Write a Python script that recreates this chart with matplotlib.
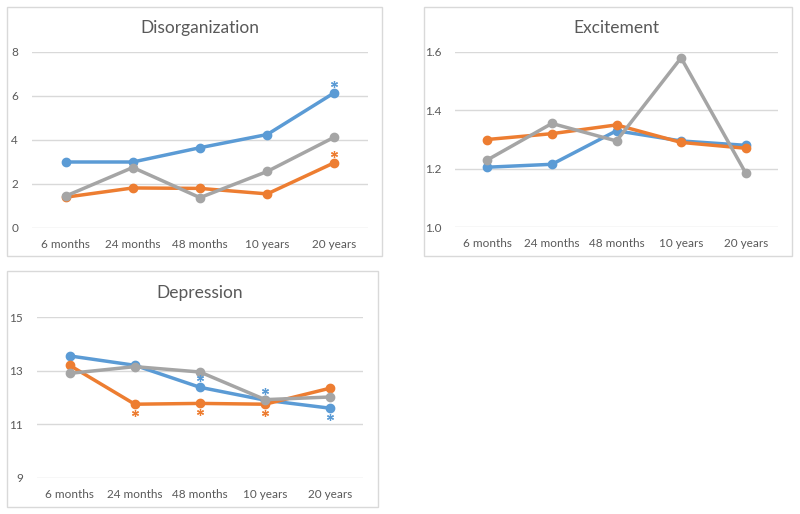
import matplotlib
matplotlib.use("Agg")
import matplotlib.pyplot as plt
from matplotlib.patches import Rectangle
from matplotlib.transforms import offset_copy

plt.rcParams['font.family'] = ['Lato', 'DejaVu Sans']

# data
times = ["6 months", "24 months", "48 months", "10 years", "20 years"]

dis_blue = [3.0, 3.0, 3.65, 4.25, 6.15]
dis_orange = [1.4, 1.82, 1.8, 1.55, 2.97]
dis_gray = [1.45, 2.75, 1.38, 2.57, 4.13]

exc_blue = [1.205, 1.215, 1.33, 1.295, 1.28]
exc_orange = [1.30, 1.32, 1.35, 1.29, 1.27]
exc_gray = [1.23, 1.355, 1.295, 1.58, 1.185]

dep_blue = [13.55, 13.2, 12.38, 11.9, 11.6]
dep_orange = [13.2, 11.75, 11.78, 11.75, 12.35]
dep_gray = [12.9, 13.15, 12.95, 11.92, 12.02]

# significance marks: (series, index, above/below)
dis_stars = [("blue", 4, 1), ("orange", 4, 1)]
exc_stars = []
dep_stars = [("orange", 1, -1), ("orange", 2, -1), ("orange", 3, -1),
             ("blue", 2, 1), ("blue", 3, 1), ("blue", 4, -1)]

BLUE = "#5B9BD5"
ORANGE = "#ED7D31"
GRAY = "#A5A5A5"
TXT = "#595959"
GRID = "#D9D9D9"
colors = {"blue": BLUE, "orange": ORANGE, "gray": GRAY}

W, H = 800, 514
fig = plt.figure(figsize=(W / 100, H / 100), dpi=100)
fig.patch.set_facecolor("white")


def box(x0, y0, x1, y1):
    fig.patches.append(Rectangle((x0 / W, 1 - y1 / H), (x1 - x0) / W, (y1 - y0) / H,
                                 transform=fig.transFigure, fill=False,
                                 edgecolor=GRID, linewidth=1.0))


def panel(rect, title, data, ylim, yticks, fmt, stars):
    x0, y0, x1, y1 = rect
    ax = fig.add_axes([x0 / W, 1 - y1 / H, (x1 - x0) / W, (y1 - y0) / H])
    xs = list(range(len(times)))
    for name in ["blue", "orange", "gray"]:
        ax.plot(xs, data[name], color=colors[name], lw=2.5, marker="o", ms=6,
                solid_capstyle="round", zorder=3)
    # asterisks next to the points
    for name, i, d in stars:
        tr = offset_copy(ax.transData, fig=fig, x=0, y=9 * d, units="dots")
        ax.plot([xs[i]], [data[name][i]], transform=tr, marker=(6, 2, 0),
                ms=5, mew=0.9, color=colors[name], ls="none", zorder=4,
                clip_on=False)
    ax.set_xlim(-0.5, len(times) - 0.5)
    ax.set_ylim(*ylim)
    ax.set_yticks(yticks)
    ax.set_yticklabels([fmt.format(v) for v in yticks])
    ax.set_xticks(xs)
    ax.set_xticklabels(times)
    ax.yaxis.grid(True, color=GRID, lw=1)
    ax.set_axisbelow(True)
    for s in ax.spines.values():
        s.set_visible(False)
    ax.tick_params(length=0, colors=TXT, labelsize=8.5)
    ax.tick_params(axis="x", pad=8)
    ax.tick_params(axis="y", pad=10)
    ax.set_title(title, color=TXT, fontsize=12.5, pad=14)
    return ax


box(7, 7, 382, 256)
box(424, 7, 792, 256)
box(7, 271, 378, 507)

panel((32, 52, 368, 228), "Disorganization",
      {"blue": dis_blue, "orange": dis_orange, "gray": dis_gray},
      (0, 8), [0, 2, 4, 6, 8], "{:g}", dis_stars)
panel((455, 52, 778, 227), "Excitement",
      {"blue": exc_blue, "orange": exc_orange, "gray": exc_gray},
      (1.0, 1.6), [1.0, 1.2, 1.4, 1.6], "{:.1f}", exc_stars)
panel((37, 317, 363, 478), "Depression",
      {"blue": dep_blue, "orange": dep_orange, "gray": dep_gray},
      (9, 15), [9, 11, 13, 15], "{:g}", dep_stars)

fig.savefig("out.png", dpi=100)
